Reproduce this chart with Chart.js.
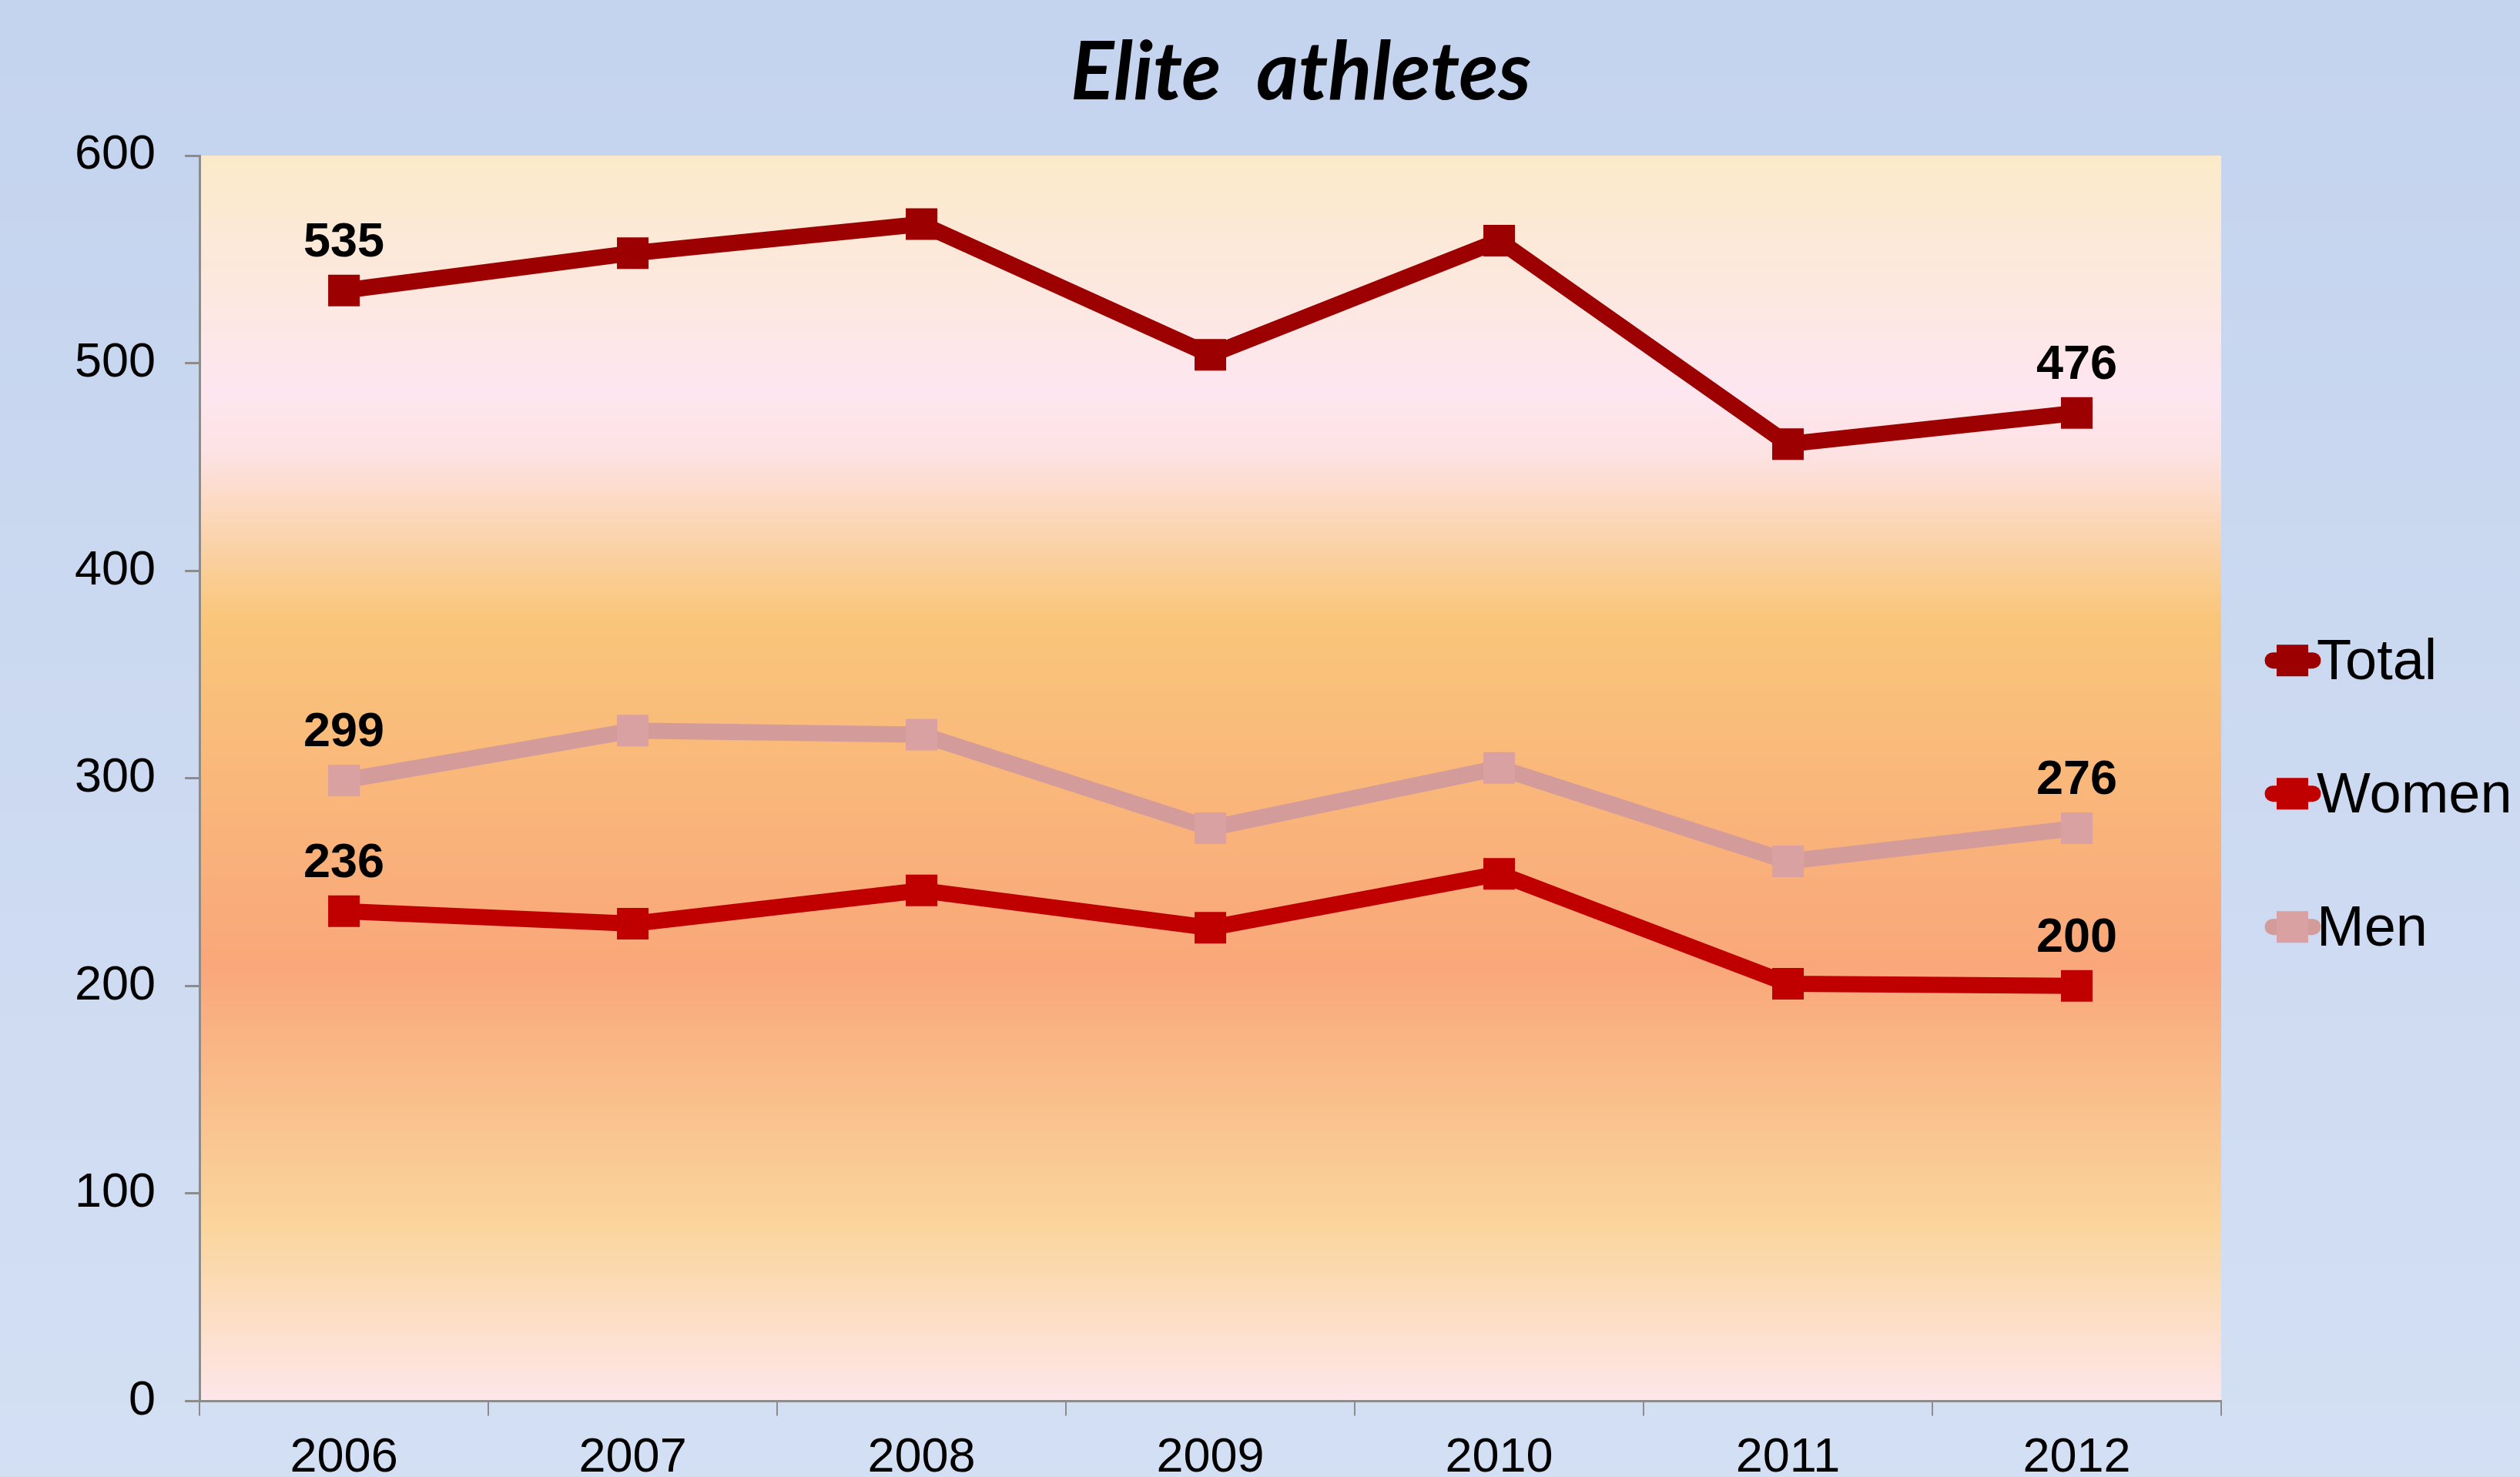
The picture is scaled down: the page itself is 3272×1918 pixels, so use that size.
<!DOCTYPE html>
<html>
<head>
<meta charset="utf-8">
<title>Elite athletes</title>
<script src="https://cdn.jsdelivr.net/npm/chart.js@4.4.1/dist/chart.umd.min.js"></script>
<style>
    html, body { margin: 0; padding: 0; background: #C9D7F0; }
    #wrap { width: 3272px; height: 1918px; }
</style>
</head>
<body>
<div id="wrap"><canvas id="athletesChart" width="3272" height="1918"></canvas></div>
<script>
// Chart data
const years = ['2006', '2007', '2008', '2009', '2010', '2011', '2012'];
const totalValues = [535, 553, 567, 504, 559, 461, 476];
const womenValues = [236, 230, 246, 228, 254, 201, 200];
const menValues = [299, 323, 321, 276, 305, 260, 276];
const yTicks = [0, 100, 200, 300, 400, 500, 600];
const chartTitle = 'Elite  athletes';

const axisColor = '#8C8C8C';
const labelFont = '"Liberation Sans", Arial, sans-serif';

// Backgrounds: blue page, warm gradient behind the plot
const backgroundPlugin = {
    id: 'backgrounds',
    beforeDraw(chart) {
        const ctx = chart.ctx;
        const area = chart.chartArea;
        ctx.save();
        let g = ctx.createLinearGradient(0, 0, 0, chart.height);
        g.addColorStop(0, '#C4D3EE');
        g.addColorStop(1, '#D3DFF3');
        ctx.fillStyle = g;
        ctx.fillRect(0, 0, chart.width, chart.height);

        g = ctx.createLinearGradient(0, area.top, 0, area.bottom);
        g.addColorStop(0, '#FBEAC9');
        g.addColorStop(0.19, '#FDE6F0');
        g.addColorStop(0.24, '#FDE2E2');
        g.addColorStop(0.37, '#F9C67A');
        g.addColorStop(0.65, '#F9A77A');
        g.addColorStop(0.86, '#FAD59C');
        g.addColorStop(1, '#FEE6EA');
        ctx.fillStyle = g;
        ctx.fillRect(area.left, area.top, area.right - area.left, area.bottom - area.top);
        ctx.restore();
    }
};

// Title, end-point value labels and legend
const overlayPlugin = {
    id: 'overlay',
    afterDraw(chart) {
        const ctx = chart.ctx;
        const area = chart.chartArea;
        ctx.save();

        // title
        ctx.fillStyle = '#000';
        ctx.font = 'italic bold 105px Lato, "Open Sans", sans-serif';
        ctx.textAlign = 'center';
        ctx.textBaseline = 'alphabetic';
        ctx.fillText(chartTitle, 1689, 129);

        // value labels on first and last point
        ctx.font = 'bold 63px ' + labelFont;
        chart.data.datasets.forEach((ds, i) => {
            const meta = chart.getDatasetMeta(i);
            [0, ds.data.length - 1].forEach(idx => {
                const pt = meta.data[idx];
                ctx.fillText(String(ds.data[idx]), pt.x, pt.y - 44);
            });
        });

        // legend
        const midY = (area.top + area.bottom) / 2 + 20;
        chart.data.datasets.forEach((ds, i) => {
            const y = midY + (i - 1) * 173;
            const x0 = area.right + 57;
            ctx.strokeStyle = ds.borderColor;
            ctx.lineWidth = 21;
            ctx.lineCap = 'round';
            ctx.beginPath();
            ctx.moveTo(x0 + 10, y);
            ctx.lineTo(x0 + 62, y);
            ctx.stroke();
            ctx.fillStyle = ds.pointBackgroundColor;
            ctx.fillRect(x0 + 15, y - 20.5, 41, 41);
            ctx.fillStyle = '#000';
            ctx.font = '74px ' + labelFont;
            ctx.textAlign = 'left';
            ctx.fillText(ds.label, area.right + 124, y + 24);
        });
        ctx.restore();
    }
};

function lineDataset(label, data, lineColor, markerColor) {
    return {
        label: label,
        data: data,
        borderColor: lineColor,
        backgroundColor: lineColor,
        borderWidth: 21,
        tension: 0,
        pointStyle: 'rect',
        pointRadius: 29,
        pointHoverRadius: 29,
        pointBorderWidth: 0,
        pointBackgroundColor: markerColor,
        fill: false
    };
}

const ctx = document.getElementById('athletesChart').getContext('2d');
new Chart(ctx, {
    type: 'line',
    data: {
        labels: years,
        datasets: [
            lineDataset('Total', totalValues, '#9C0000', '#9C0000'),
            lineDataset('Women', womenValues, '#C00000', '#C00000'),
            lineDataset('Men', menValues, '#D49B9B', '#D9A1A1')
        ]
    },
    options: {
        responsive: false,
        animation: false,
        devicePixelRatio: 1,
        // x labels run off the bottom edge, as in the original
        layout: { padding: { left: 59, top: 202, right: 388, bottom: -30 } },
        plugins: {
            legend: { display: false },
            title: { display: false },
            tooltip: { enabled: false }
        },
        scales: {
            x: {
                offset: true,
                grid: {
                    offset: true,
                    drawOnChartArea: false,
                    drawTicks: true,
                    tickLength: 19,
                    color: axisColor,
                    lineWidth: 2
                },
                border: { display: true, color: axisColor, width: 3 },
                ticks: {
                    color: '#000',
                    padding: 17,
                    maxRotation: 0,
                    font: { family: labelFont, size: 63 }
                }
            },
            y: {
                min: yTicks[0],
                max: yTicks[yTicks.length - 1],
                afterBuildTicks: axis => { axis.ticks = yTicks.map(v => ({ value: v })); },
                grid: {
                    drawOnChartArea: false,
                    drawTicks: true,
                    tickLength: 19,
                    color: axisColor,
                    lineWidth: 3
                },
                border: { display: true, color: axisColor, width: 3 },
                ticks: {
                    color: '#000',
                    padding: 38,
                    font: { family: labelFont, size: 63 }
                }
            }
        }
    },
    plugins: [backgroundPlugin, overlayPlugin]
});
</script>
</body>
</html>
